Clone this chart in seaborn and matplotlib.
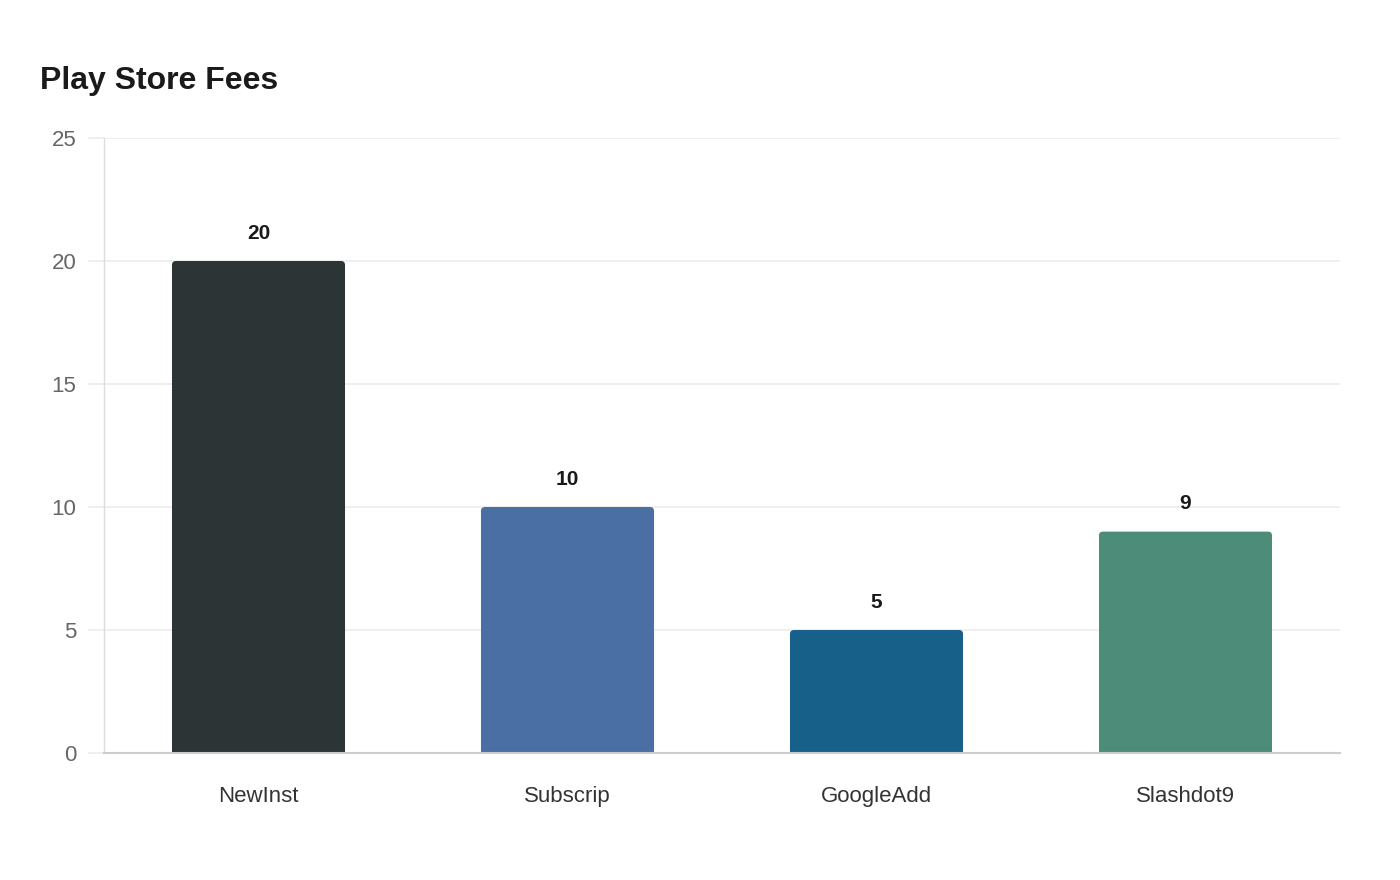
import matplotlib
matplotlib.use("Agg")
import matplotlib.pyplot as plt
from matplotlib.patches import FancyBboxPatch
import seaborn as sns
import pandas as pd

categories = ["NewInst", "Subscrip", "GoogleAdd", "Slashdot9"]
values = [20, 10, 5, 9]
colors = ["#2D3436", "#4A6FA5", "#17608A", "#4E8C7A"]
y_ticks = [0, 5, 10, 15, 20, 25]
title = "Play Store Fees"

sns.set_theme(style="white")
plt.rcParams["font.family"] = ["Liberation Sans", "DejaVu Sans"]

df = pd.DataFrame({"cat": categories, "val": values})

fig = plt.figure(figsize=(14, 8.8), dpi=100)
ax = fig.add_axes([104 / 1400, 1 - 753 / 880, (1340 - 104) / 1400, (753 - 138) / 880])

sns.barplot(data=df, x="cat", y="val", hue="cat", palette=colors, legend=False,
            width=0.56, saturation=1, ax=ax, zorder=3)

ax.set_xlim(-0.5, len(categories) - 0.5)
ax.set_ylim(0, 25)
ax.set_yticks(y_ticks)

# rounded top corners
fig.canvas.draw()
x_per_px = (len(categories)) / ax.bbox.width
y_per_px = 25 / ax.bbox.height
r = 4 * x_per_px
aspect = y_per_px / x_per_px
for p in list(ax.patches):
    x, y = p.get_x(), p.get_y()
    w, h = p.get_width(), p.get_height()
    fc = p.get_facecolor()
    p.remove()
    fb = FancyBboxPatch((x, y - 1), w, h + 1,
                        boxstyle=f"round,pad=0,rounding_size={r}",
                        mutation_aspect=aspect, facecolor=fc, edgecolor="none",
                        zorder=3, clip_on=True)
    ax.add_patch(fb)

for i, v in enumerate(values):
    ax.annotate(str(v), xy=(i, v), xytext=(0, 20), textcoords="offset points",
                ha="center", va="center", fontsize=15, fontweight="bold",
                color="#1a1a1a")

ax.grid(axis="y", color="#ebebeb", linewidth=1.1, zorder=0)
ax.grid(axis="x", visible=False)
for s in ["top", "right"]:
    ax.spines[s].set_visible(False)
ax.spines["left"].set_color("#dddddd")
ax.spines["left"].set_linewidth(1.0)
ax.spines["bottom"].set_color("#cccccc")
ax.spines["bottom"].set_linewidth(1.5)
ax.spines["bottom"].set_zorder(4)

ax.tick_params(axis="y", length=11.5, width=1.1, color="#ebebeb", pad=8.5,
               labelsize=16, labelcolor="#666666", left=True)
ax.tick_params(axis="x", length=0, pad=24, labelsize=16, labelcolor="#333333")
ax.set_xlabel("")
ax.set_ylabel("")

fig.text(40 / 1400, 1 - 81 / 880, title, fontsize=23, fontweight="bold",
         color="#1a1a1a", ha="left", va="center")

fig.savefig("out.png", dpi=100, facecolor="white")
